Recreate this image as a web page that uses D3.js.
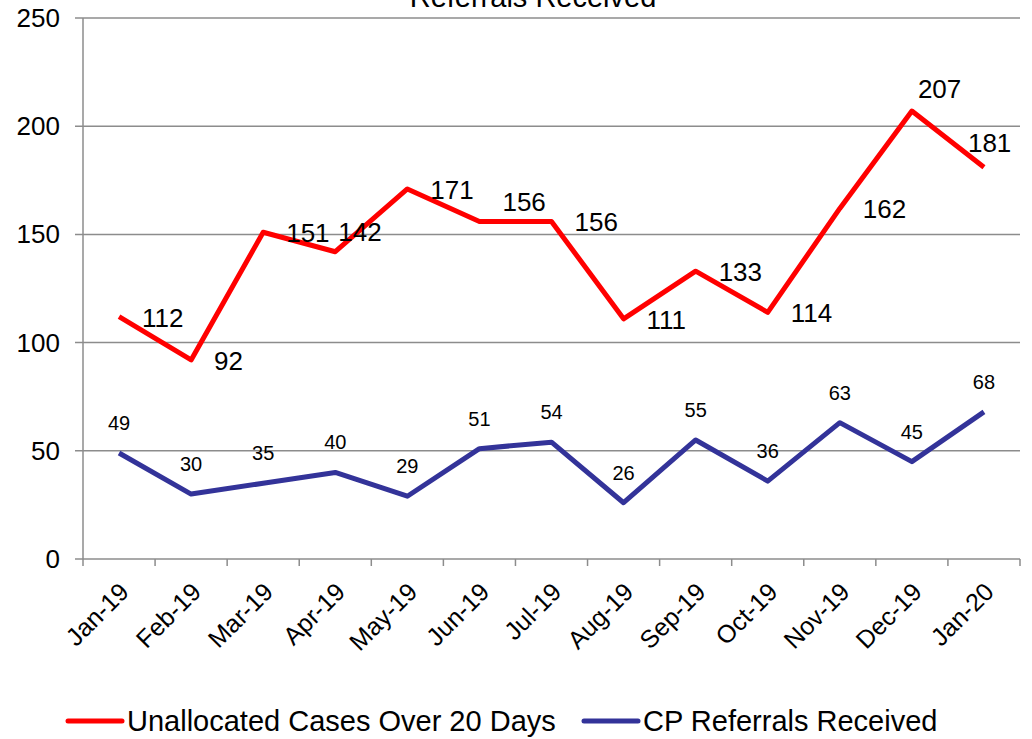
<!DOCTYPE html>
<html lang="en">
<head>
  <meta charset="utf-8" />
  <title>Unallocated Cases and CP Referrals</title>
  <script src="https://d3js.org/d3.v7.min.js"></script>
  <style>
    body { margin: 0; background: #fff; }
    svg { display: block; font-family: "Liberation Sans", Arial, sans-serif; }
  </style>
</head>
<body>
  <svg id="chart" width="1032" height="739"></svg>
  <script>
    // data
    const months = ["Jan-19", "Feb-19", "Mar-19", "Apr-19", "May-19", "Jun-19", "Jul-19",
                    "Aug-19", "Sep-19", "Oct-19", "Nov-19", "Dec-19", "Jan-20"];
    const unallocated = [112, 92, 151, 142, 171, 156, 156, 111, 133, 114, 162, 207, 181];
    const referrals = [49, 30, 35, 40, 29, 51, 54, 26, 55, 36, 63, 45, 68];
    const yTicks = [0, 50, 100, 150, 200, 250];

    // nudges for the red labels, [dx, dy] from the point (layout only)
    const redLabelNudge = [[23, 10], [23, 10], [23, 10], [3, -11], [23, 10], [23, -10], [23, 10],
                           [23, 10], [23, 10], [23, 10], [23, 10], [6, -13], [-16, -15]];

    const svg = d3.select("#chart");
    const plotL = 83, plotR = 1020, plotT = 18, plotB = 559;

    const x = d3.scaleBand().domain(months).range([plotL, plotR]);
    const y = d3.scaleLinear().domain([0, 250]).range([plotB, plotT]);
    const cx = d => x(d) + x.bandwidth() / 2;

    // gridlines
    svg.append("g")
      .selectAll("line")
      .data(yTicks)
      .join("line")
      .attr("x1", plotL - 8)
      .attr("x2", plotR)
      .attr("y1", d => y(d))
      .attr("y2", d => y(d))
      .attr("stroke", "#8c8c8c")
      .attr("stroke-width", 1.5);

    // y axis line + labels
    svg.append("line")
      .attr("x1", plotL).attr("x2", plotL)
      .attr("y1", plotT).attr("y2", plotB)
      .attr("stroke", "#8c8c8c").attr("stroke-width", 1.5);

    svg.append("g")
      .selectAll("text")
      .data(yTicks)
      .join("text")
      .attr("x", 60)
      .attr("y", d => y(d) + 9)
      .attr("text-anchor", "end")
      .attr("font-size", 26)
      .text(d => d);

    // x ticks at band edges
    const edges = months.map(m => x(m)).concat([plotR]);
    svg.append("g")
      .selectAll("line")
      .data(edges)
      .join("line")
      .attr("x1", d => d).attr("x2", d => d)
      .attr("y1", plotB).attr("y2", plotB + 7)
      .attr("stroke", "#8c8c8c").attr("stroke-width", 1.5);

    svg.append("g")
      .selectAll("text")
      .data(months)
      .join("text")
      .attr("transform", d => `translate(${cx(d) - 1},${plotB + 22}) rotate(-45)`)
      .attr("text-anchor", "end")
      .attr("dy", "0.7em")
      .attr("font-size", 25)
      .text(d => d);

    // title (cut off at top of the frame)
    svg.append("text")
      .attr("x", 533)
      .attr("y", 7)
      .attr("text-anchor", "middle")
      .attr("font-size", 29)
      .text("Referrals Received");

    const line = d3.line()
      .x((d, i) => cx(months[i]))
      .y(d => y(d));

    svg.append("path")
      .datum(referrals)
      .attr("d", line)
      .attr("fill", "none")
      .attr("stroke", "#333399")
      .attr("stroke-width", 5)
      .attr("stroke-linejoin", "round");

    svg.append("path")
      .datum(unallocated)
      .attr("d", line)
      .attr("fill", "none")
      .attr("stroke", "#ff0000")
      .attr("stroke-width", 5)
      .attr("stroke-linejoin", "round");

    // blue data labels, above each point
    svg.append("g")
      .selectAll("text")
      .data(referrals)
      .join("text")
      .attr("x", (d, i) => cx(months[i]))
      .attr("y", d => y(d) - 23)
      .attr("text-anchor", "middle")
      .attr("font-size", 20)
      .text(d => d);

    // red data labels
    svg.append("g")
      .selectAll("text")
      .data(unallocated)
      .join("text")
      .attr("x", (d, i) => cx(months[i]) + redLabelNudge[i][0])
      .attr("y", (d, i) => y(d) + redLabelNudge[i][1])
      .attr("font-size", 26)
      .text(d => d);

    // legend
    const legend = [
      { name: "Unallocated Cases Over 20 Days", color: "#ff0000", x: 68 },
      { name: "CP Referrals Received", color: "#333399", x: 584 }
    ];
    const lg = svg.append("g").selectAll("g").data(legend).join("g");
    lg.append("line")
      .attr("x1", d => d.x).attr("x2", d => d.x + 54)
      .attr("y1", 721).attr("y2", 721)
      .attr("stroke", d => d.color)
      .attr("stroke-width", 5)
      .attr("stroke-linecap", "round");
    lg.append("text")
      .attr("x", d => d.x + 59)
      .attr("y", 731)
      .attr("font-size", 29)
      .text(d => d.name);
  </script>
</body>
</html>
